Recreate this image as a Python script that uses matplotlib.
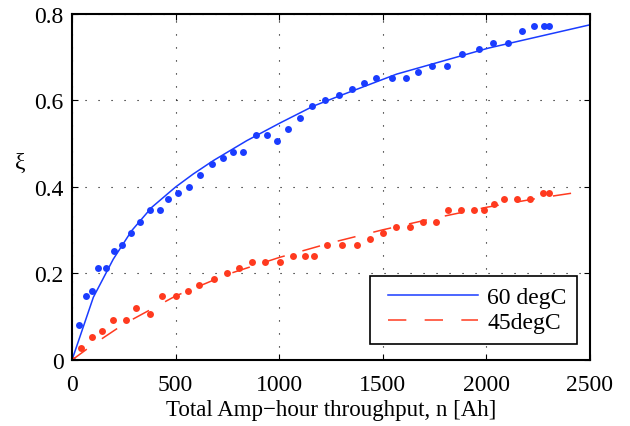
import matplotlib
matplotlib.use("Agg")
import matplotlib.pyplot as plt
from matplotlib.legend_handler import HandlerLine2D

plt.rcParams['font.family'] = ['Liberation Serif', 'DejaVu Serif']
plt.rcParams['mathtext.fontset'] = 'stix'

# measured data, 60 degC
blue_x = [0, 35, 66, 97, 127, 163, 201, 243, 286, 328, 376, 423, 465, 513, 563, 619, 676,
          729, 777, 824, 888, 940, 991, 1042, 1102, 1160, 1221, 1287, 1351, 1409, 1469,
          1544, 1612, 1668, 1737, 1810, 1881, 1966, 2033, 2104, 2172, 2228, 2278, 2302]
blue_y = [0, 0.080, 0.147, 0.160, 0.213, 0.213, 0.253, 0.267, 0.293, 0.320, 0.347, 0.347,
          0.373, 0.387, 0.400, 0.427, 0.453, 0.467, 0.480, 0.480, 0.520, 0.520, 0.507,
          0.533, 0.560, 0.587, 0.600, 0.613, 0.627, 0.640, 0.653, 0.653, 0.653, 0.667,
          0.680, 0.680, 0.707, 0.720, 0.733, 0.733, 0.760, 0.773, 0.773, 0.773]

# measured data, 45 degC
red_x = [0, 43, 95, 145, 198, 259, 307, 375, 436, 503, 558, 613, 685, 747, 807, 869, 933,
         1002, 1066, 1124, 1169, 1231, 1302, 1374, 1437, 1501, 1565, 1630, 1694, 1757,
         1815, 1877, 1940, 1988, 2038, 2085, 2148, 2210, 2275, 2304]
red_y = [0, 0.027, 0.053, 0.067, 0.093, 0.093, 0.120, 0.107, 0.147, 0.147, 0.160, 0.173,
         0.187, 0.200, 0.213, 0.227, 0.227, 0.227, 0.240, 0.240, 0.240, 0.267, 0.267,
         0.267, 0.280, 0.293, 0.307, 0.307, 0.320, 0.320, 0.347, 0.347, 0.347, 0.347,
         0.360, 0.373, 0.373, 0.373, 0.387, 0.387]

# fitted curves
fit60_x = [0, 103, 199, 288, 385, 500, 585, 682, 843, 1004, 1165, 1293, 1567, 2009, 2500]
fit60_y = [0, 0.145, 0.233, 0.299, 0.353, 0.400, 0.430, 0.461, 0.507, 0.548, 0.587,
           0.611, 0.661, 0.721, 0.775]
fit45_x = [0, 100, 250, 500, 750, 1000, 1250, 1500, 1750, 2000, 2250, 2500]
fit45_y = [0, 0.035, 0.083, 0.148, 0.198, 0.237, 0.271, 0.301, 0.328, 0.353, 0.374, 0.392]

xticks = [0, 500, 1000, 1500, 2000, 2500]
yticks = [0, 0.2, 0.4, 0.6, 0.8]
ytick_labels = ['0', '0.2', '0.4', '0.6', '0.8']

blue = '#1a3cff'
red = '#ff3a1f'


class InsetLineHandler(HandlerLine2D):
    """Legend line that leaves some empty room on its left side."""
    def __init__(self, frac, **kw):
        super().__init__(**kw)
        self.frac = frac

    def create_artists(self, legend, orig_handle, xdescent, ydescent, width, height,
                       fontsize, trans):
        arts = super().create_artists(legend, orig_handle, xdescent, ydescent, width,
                                      height, fontsize, trans)
        for a in arts:
            x = list(a.get_xdata())
            if len(x) >= 2:
                x0, x1 = x[0], x[-1]
                a.set_xdata([x0 + (x1 - x0) * self.frac, x1])
                a.set_ydata([a.get_ydata()[0]] * 2)
        return arts


fig = plt.figure(figsize=(6.3, 4.27), dpi=100)
ax = fig.add_axes([0.1143, 0.1546, 0.8222, 0.8103])

l1, = ax.plot(fit60_x, fit60_y, color=blue, lw=1.1, label='60 degC')
l2, = ax.plot(fit45_x, fit45_y, color=red, lw=1.1, dashes=(12, 12), label='45degC')
ax.plot(blue_x, blue_y, 'o', color=blue, ms=5, mec='none')
ax.plot(red_x, red_y, 'o', color=red, ms=5, mec='none')

ax.set_xlim(0, 2500)
ax.set_ylim(0, 0.8)
ax.set_xticks(xticks)
ax.set_yticks(yticks)
ax.set_yticklabels(ytick_labels)
ax.tick_params(direction='in', top=True, right=True, labelsize=17, length=4, width=0.8)
ax.tick_params(axis='x', pad=10)
ax.tick_params(axis='y', pad=6)
ax.grid(True, color='black', linestyle=(0, (1, 10.7)), linewidth=0.8)
for s in ax.spines.values():
    s.set_linewidth(1.5)

ax.set_xlabel('Total Amp\u2212hour throughput, n [Ah]', fontsize=16.5, labelpad=3)
fig.text(20 / 630, 1 - 163 / 427, '\u03be', fontsize=17, ha='center', va='center')

hmap = {l1: InsetLineHandler(0.075), l2: InsetLineHandler(0.075)}
leg = ax.legend(handles=[l1, l2], loc='lower right', bbox_to_anchor=(0.975, 0.046),
                fontsize=17, handlelength=4.12, handletextpad=0.38, borderpad=0.45,
                labelspacing=0.15, borderaxespad=0, fancybox=False, framealpha=1,
                edgecolor='black', handler_map=hmap)
leg.get_frame().set_linewidth(1.2)

fig.savefig('out.png', dpi=100)
